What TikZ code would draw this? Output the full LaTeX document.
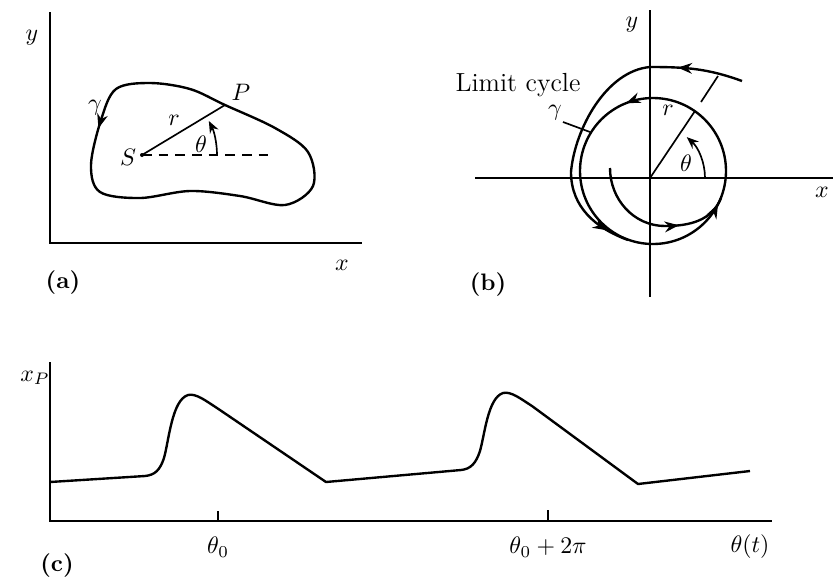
\documentclass[tikz,border=0pt]{standalone}
\usetikzlibrary{arrows.meta,decorations.markings}
\begin{document}
\begin{tikzpicture}[x=0.42pt,y=-0.42pt,
  axis/.style={line width=0.9pt},
  curve/.style={line width=1pt},
  thinl/.style={line width=0.7pt},
  lab/.style={inner sep=0pt},
  tip/.style={-{Stealth[length=5pt,width=4pt]}},
  arrowat/.style={postaction={decorate,decoration={markings,mark=at position #1 with {\arrow{Stealth[length=6pt,width=4.5pt]}}}}}]
\useasboundingbox (0,0) rectangle (834,581);

% ---------- panel (a)
\coordinate (ay) at (50,12);
\coordinate (ao) at (50,243);
\coordinate (ax) at (362,243);
\draw[axis] (ay) -- (ao) -- (ax);
\node[lab] (ya) at (32,38) {$y$};
\node[lab] (xa) at (342,265) {$x$};
\node[lab] (la) at (63,283) {\textbf{(a)}};

\draw[curve,arrowat=0.015] plot[smooth cycle,tension=0.55] coordinates {
 (116,89) (101,120) (91,165) (100,192) (140,198) (190,191) (240,196)
 (285,205) (313,186) (308,152) (275,128) (225,105) (190,89) (150,83)};
\coordinate (S) at (142,155);
\coordinate (P) at (225,105);
\coordinate (Sd) at (273,155);
\fill (S) circle (2);
\draw[thinl] (S) -- (P);
\draw[thinl,dashed,dash pattern=on 4pt off 3pt] (S) -- (Sd);
\draw[thinl,tip] (217,155) arc (0:-27:75);
\node[lab] (lS) at (128,157) {$S$};
\node[lab] (lP) at (241,92) {$P$};
\node[lab] (lr) at (174,120) {$r$};
\node[lab] (lth) at (201,144) {$\theta$};
\node[lab] (lg) at (95,108) {$\gamma$};

% ---------- panel (b)
\coordinate (O) at (650,178);
\draw[axis] (475,178) -- (833,178);
\draw[axis] (650,10) -- (650,297);
\node[lab] (yb) at (632,25) {$y$};
\node[lab] (xb) at (822,192) {$x$};
\node[lab] (lb) at (488,285) {\textbf{(b)}};

% limit cycle
\draw[curve,arrowat=0.31,arrowat=0.925] (726,171) arc (0:-360:73);
% outer spiral
\draw[curve,arrowat=0.2,arrowat=0.93] (742,81) to[out=160,in=0] (650,67)
  to[out=185,in=85,looseness=0.85] (571,172)
  to[out=-90,in=160] (628,240);
% inner spiral
\draw[curve,arrowat=0.66] (610,168) to[out=-90,in=180] (665,226)
  to[out=0,in=248] (721,198);
% radius line
\coordinate (rc) at (695,111);
\coordinate (rs1) at (701,102);
\coordinate (rs2) at (718,76);
\draw[thinl] (O) -- (rc);
\draw[thinl] (rs1) -- (rs2);
\draw[thinl,tip] (705,178) arc (0:-48:55);
\node[lab] (lrb) at (668,110) {$r$};
\node[lab] (lthb) at (686,163) {$\theta$};
% gamma
\coordinate (g1) at (563,122);
\coordinate (g2) at (590,132);
\draw[thinl] (g1) -- (g2);
\node[lab] (lgb) at (555,113) {$\gamma$};
\node[lab,font=\fontsize{11}{13}\selectfont] (llc) at (518,85) {Limit cycle};

% ---------- panel (c)
\coordinate (cy) at (50,362);
\coordinate (co) at (50,521);
\coordinate (cx) at (772,521);
\draw[axis] (cy) -- (co) -- (cx);
\coordinate (t0) at (218,521);
\coordinate (t1) at (548,521);
\draw[axis] (t0) -- ++(0,-10);
\draw[axis] (t1) -- ++(0,-11);
\node[lab] (lxp) at (35,378) {$x_P$};
\node[lab] (lt0) at (218,547) {$\theta_0$};
\node[lab] (lt1) at (548,547) {$\theta_0+2\pi$};
\node[lab] (ltt) at (750,547) {$\theta(t)$};
\node[lab] (lc) at (57,566) {\textbf{(c)}};

\draw[curve,line join=round] (50,482) -- (145,476)
  .. controls (155,475) and (160,470) .. (164,458)
  .. controls (169,440) and (172,400) .. (188,395)
  .. controls (196,393) and (206,401) .. (217,408)
  -- (326,482) -- (461,470)
  .. controls (471,469) and (476,463) .. (480,451)
  .. controls (485,433) and (488,398) .. (503,393)
  .. controls (511,391) and (521,399) .. (532,406)
  -- (638,484) -- (750,471);
\end{tikzpicture}
\end{document}
